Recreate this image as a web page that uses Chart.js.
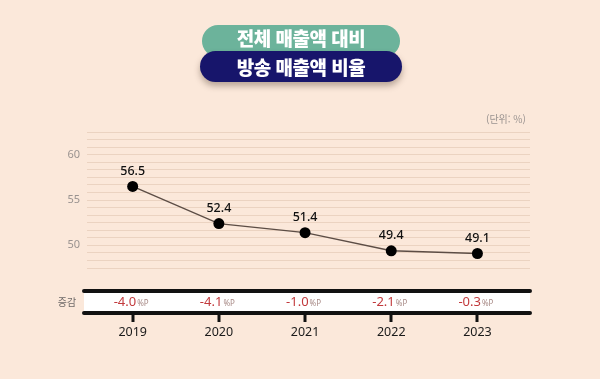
<!DOCTYPE html>
<html lang="ko">
<head>
<meta charset="utf-8">
<script src="https://cdn.jsdelivr.net/npm/chart.js@4.4.1/dist/chart.umd.min.js"></script>
<style>
    html, body { margin: 0; padding: 0; background: #fbe8da; }
    .wrap { position: relative; width: 600px; height: 379px; overflow: hidden; background: #fbe8da; }
    canvas { position: absolute; left: 0; top: 0; }
    .pill {
        position: absolute; height: 30px; border-radius: 16px; color: #fff;
        font-family: "Noto Sans CJK KR", sans-serif; font-weight: 900; font-size: 19px;
        text-align: center; line-height: 30px; letter-spacing: -0.5px;
    }
    .pill.green { left: 202px; top: 25px; width: 198px; height: 32px; background: #6cb39b; line-height: 26px; }
    .pill.navy { left: 200px; top: 51px; width: 202px; height: 31px; background: #17156b; line-height: 31px;
        box-shadow: 0 4px 6px rgba(60, 40, 30, 0.35); }
    .unit { position: absolute; left: 486px; top: 111px; font-family: "Noto Sans CJK KR", sans-serif;
        font-size: 10px; color: #9a9390; }
</style>
</head>
<body>
<div class="wrap">
    <canvas id="chart" width="600" height="379"></canvas>
    <div class="pill green">전체 매출액 대비</div>
    <div class="pill navy">방송 매출액 비율</div>
    <div class="unit">(단위: %)</div>
</div>
<script>
const years = [2019, 2020, 2021, 2022, 2023];
const shareValues = [56.5, 52.4, 51.4, 49.4, 49.1];
const changeValues = [-4.0, -4.1, -1.0, -2.1, -0.3];
const yTickLabels = [50, 55, 60];
const changeLabel = '증감';
const changeUnit = '%P';

// point value labels above each dot
const valueLabels = {
    id: 'valueLabels',
    afterDatasetsDraw(chart) {
        const ctx = chart.ctx;
        const meta = chart.getDatasetMeta(0);
        ctx.save();
        ctx.font = '500 12.5px "Noto Sans", sans-serif';
        ctx.fillStyle = '#111';
        ctx.textAlign = 'center';
        ctx.textBaseline = 'middle';
        meta.data.forEach((pt, i) => {
            ctx.fillText(shareValues[i].toFixed(1), pt.x, pt.y - 15);
        });
        ctx.restore();
    }
};

// the white band with yearly change under the plot
const changeBand = {
    id: 'changeBand',
    afterDraw(chart) {
        const ctx = chart.ctx;
        const xs = chart.scales.x;
        const top = chart.chartArea.bottom + 23;
        const bot = top + 22;
        const left = 84, right = 530;
        ctx.save();
        ctx.fillStyle = '#ffffff';
        ctx.fillRect(left, top, right - left, bot - top);
        ctx.strokeStyle = '#111';
        ctx.lineWidth = 4;
        ctx.lineCap = 'round';
        ctx.beginPath();
        ctx.moveTo(left, top); ctx.lineTo(right, top);
        ctx.moveTo(left, bot); ctx.lineTo(right, bot);
        ctx.stroke();
        ctx.lineWidth = 3;
        ctx.lineCap = 'butt';
        years.forEach(y => {
            const x = Math.round(xs.getPixelForValue(y));
            ctx.beginPath();
            ctx.moveTo(x, bot); ctx.lineTo(x, bot + 9);
            ctx.stroke();
        });

        const mid = (top + bot) / 2 + 0.5;
        ctx.textBaseline = 'middle';
        ctx.font = '10px "Noto Sans CJK KR", sans-serif';
        ctx.fillStyle = '#6f6a68';
        ctx.textAlign = 'center';
        ctx.fillText(changeLabel, 67, mid);

        ctx.textAlign = 'left';
        changeValues.forEach((v, i) => {
            const x = xs.getPixelForValue(years[i]);
            const main = v.toFixed(1);
            ctx.font = '13px "Noto Sans", sans-serif';
            const w1 = ctx.measureText(main).width;
            ctx.font = '8px "Noto Sans", sans-serif';
            const w2 = ctx.measureText(changeUnit).width;
            const start = x - (w1 + w2) / 2 - 2;
            ctx.font = '13px "Noto Sans", sans-serif';
            ctx.fillStyle = '#c23a3d';
            ctx.fillText(main, start, mid);
            ctx.font = '8px "Noto Sans", sans-serif';
            ctx.fillStyle = '#a88a86';
            ctx.fillText(changeUnit, start + w1 + 1, mid + 1.5);
        });
        ctx.restore();
    }
};

new Chart(document.getElementById('chart').getContext('2d'), {
    type: 'line',
    data: {
        datasets: [{
            data: years.map((y, i) => ({ x: y, y: shareValues[i] })),
            borderColor: '#5c4d45',
            borderWidth: 1.4,
            pointBackgroundColor: '#000',
            pointBorderColor: '#000',
            pointRadius: 5.5,
            pointBorderWidth: 0,
            tension: 0
        }]
    },
    options: {
        responsive: false,
        animation: false,
        layout: { padding: { left: 0, right: 70, top: 132, bottom: 0 } },
        plugins: { legend: { display: false }, tooltip: { enabled: false } },
        scales: {
            x: {
                type: 'linear',
                min: 2018.47,
                max: 2023.61,
                afterBuildTicks: s => { s.ticks = years.map(v => ({ value: v })); },
                afterFit: s => { s.height = 111; },
                grid: { display: false, drawTicks: false },
                border: { display: false },
                ticks: {
                    padding: 57,
                    autoSkip: false,
                    color: '#1a1a1a',
                    font: { family: '"Noto Sans", sans-serif', size: 12.5 },
                    callback: v => String(v)
                }
            },
            y: {
                min: 47.5,
                max: 62.5,
                afterBuildTicks: s => {
                    const t = [];
                    for (let i = 0; i <= 18; i++) t.push({ value: 47.5 + i * 5 / 6 });
                    s.ticks = t;
                },
                afterFit: s => { s.width = 87; },
                grid: { color: '#ebd3c1', lineWidth: 1, drawTicks: false },
                border: { display: false },
                ticks: {
                    padding: 7,
                    autoSkip: false,
                    color: '#9a9390',
                    font: { family: '"Noto Sans", sans-serif', size: 11 },
                    callback: v => {
                        const hit = yTickLabels.find(t => Math.abs(t - v) < 1e-6);
                        return hit !== undefined ? String(hit) : '';
                    }
                }
            }
        }
    },
    plugins: [valueLabels, changeBand]
});
</script>
</body>
</html>
